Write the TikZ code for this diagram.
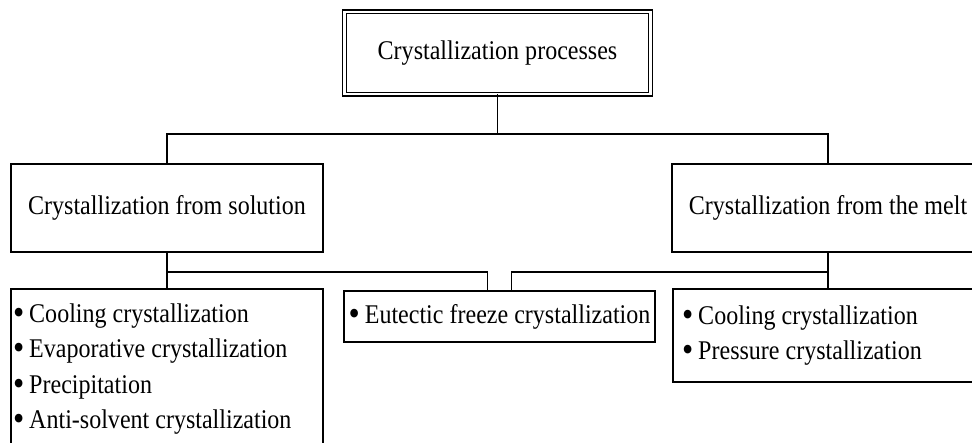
\documentclass[tikz,border=0pt]{standalone}
\usepackage{fontspec}
\setmainfont{Liberation Serif}[FakeStretch=0.89]
\usepackage{tikz}
\newcommand{\bul}{\raisebox{-2pt}{\fontsize{36}{36}\selectfont•}\hspace{5pt}}

\begin{document}
\begin{tikzpicture}[x=1pt, y=-1pt, line width=1.6pt,
      every node/.style = {shape=rectangle, draw, anchor=north west,
        outer sep=0pt, inner xsep=2pt, inner ysep=0pt,
        font=\fontsize{27}{35.5}\selectfont},
      headbox/.style = {double, line width=1.3pt, double distance=2.2pt,
        minimum width=306pt, minimum height=82.6pt},
      groupbox/.style = {minimum width=312pt, minimum height=88pt},
      listbox/.style = {minimum width=312pt, align=flush left}]
  \useasboundingbox (0,0) rectangle (972,443);
  \clip (0,0) rectangle (972,443);

  \node[headbox] (proc) at (344.5,11.7) {Crystallization processes};
  \node[groupbox] (sol) at (11,164) {Crystallization from solution};
  \node[groupbox] (melt) at (672,164) {Crystallization from the melt};

  \node[listbox, text width=308pt, minimum height=160pt] (sollist) at (11,289)
    {\bul Cooling crystallization\\\bul Evaporative crystallization\\
     \bul Precipitation\\\bul Anti-solvent crystallization};
  \node[minimum width=311pt, minimum height=51pt] (eut) at (344,291)
    {\bul Eutectic freeze crystallization};
  \node[listbox, inner xsep=9pt, text width=294pt, minimum height=93pt] (meltlist) at (673,289)
    {\bul Cooling crystallization\\\bul Pressure crystallization};

  % upper tree
  \coordinate (bus) at (497.5,134);
  \draw (proc.south) -- (bus);
  \draw (sol.north) |- (bus) -| (melt.north);

  % lower tree
  \draw (sol.south) -- (sollist.north);
  \draw (melt.south) -- (melt.south |- meltlist.north);
  \draw (sol.south) ++(0,20) -| ([xshift=-12pt]eut.north);
  \draw (melt.south) ++(0,20) -| ([xshift=12pt]eut.north);
\end{tikzpicture}
\end{document}
